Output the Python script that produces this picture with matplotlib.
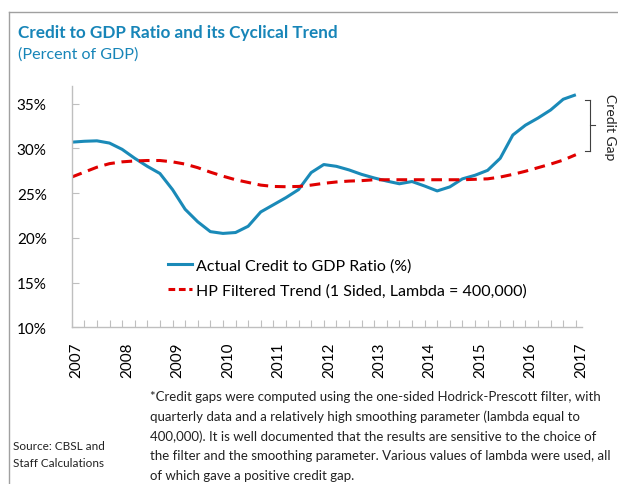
import matplotlib.pyplot as plt
from matplotlib.lines import Line2D

plt.rcParams['font.family'] = ['Lato', 'DejaVu Sans']

# Quarterly data, 2007Q1 - 2017Q1 (percent of GDP)
years = list(range(2007, 2018))
actual_ratio = [30.7, 30.8, 30.85, 30.6, 29.9, 28.9, 28.0, 27.2, 25.4, 23.2,
                21.8, 20.7, 20.5, 20.6, 21.3, 22.9, 23.7, 24.5, 25.4, 27.3,
                28.2, 28.0, 27.6, 27.1, 26.7, 26.35, 26.05, 26.3, 25.8, 25.25,
                25.7, 26.6, 27.0, 27.55, 28.9, 31.5, 32.6, 33.4, 34.3, 35.5,
                36.0]
hp_trend = [26.8, 27.35, 27.9, 28.3, 28.5, 28.6, 28.65, 28.65, 28.5, 28.25,
            27.85, 27.35, 26.9, 26.5, 26.2, 25.9, 25.75, 25.72, 25.75, 25.9,
            26.1, 26.25, 26.35, 26.4, 26.5, 26.5, 26.5, 26.5, 26.5, 26.5,
            26.5, 26.5, 26.55, 26.6, 26.8, 27.1, 27.45, 27.85, 28.25, 28.7,
            29.3]
y_ticks = [10, 15, 20, 25, 30, 35]

title_color = '#1785b8'
blue = '#1a8ab8'
red = '#e00000'

fig = plt.figure(figsize=(6.18, 4.85), dpi=100)
ax = fig.add_axes([0.116, 0.323, 0.826, 0.498])

q = list(range(len(actual_ratio)))
ax.plot(q, actual_ratio, color=blue, lw=2.2, solid_capstyle='butt')
ax.plot(q, hp_trend, color=red, lw=2.2, dashes=(3.5, 2.2))

ax.set_xlim(0, 40.5)
ax.set_ylim(10, 37)
ax.set_yticks(y_ticks)
ax.set_yticklabels([f'{v}%' for v in y_ticks], fontsize=11)
# quarterly tick marks, year labels slightly right of the quarter mark
ax.set_xticks(q, minor=True)
ax.set_xticks([4 * i + 0.4 for i in range(len(years))])
ax.set_xticklabels([str(y) for y in years], rotation=90, fontsize=11)
ax.tick_params(axis='both', which='both', direction='in', length=5,
               color='#bfbfbf', width=0.8)
ax.tick_params(axis='x', which='major', length=0, pad=10)
ax.tick_params(axis='y', pad=18)
for s in ['top', 'right']:
    ax.spines[s].set_visible(False)
for s in ['left', 'bottom']:
    ax.spines[s].set_color('#bfbfbf')
    ax.spines[s].set_linewidth(1.0)

handles = [Line2D([], [], color=blue, lw=2.2),
           Line2D([], [], color=red, lw=2.2, dashes=(2.2, 1.2))]
ax.legend(handles, ['Actual Credit to GDP Ratio (%)',
                    'HP Filtered Trend (1 Sided, Lambda = 400,000)'],
          loc='upper left', bbox_to_anchor=(0.16, 0.345), frameon=False,
          fontsize=11.5, handlelength=1.55, handletextpad=0.2, labelspacing=0.65)

# credit gap bracket
bx = 0.955
fig.add_artist(Line2D([bx, bx], [1 - 100.5 / 485, 1 - 151.5 / 485], color='#404040', lw=0.8))
fig.add_artist(Line2D([bx - 0.008, bx], [1 - 100.5 / 485] * 2, color='#404040', lw=0.8))
fig.add_artist(Line2D([bx - 0.008, bx], [1 - 151.5 / 485] * 2, color='#404040', lw=0.8))
fig.add_artist(Line2D([bx, bx + 0.007], [1 - 126 / 485] * 2, color='#404040', lw=0.8))
fig.text(0.987, 1 - 127 / 485, 'Credit Gap', rotation=270, ha='center', va='center',
         fontsize=10, color='#222222')

# frame lines
fig.add_artist(Line2D([9 / 618, 1], [1 - 13 / 485] * 2, color='#a0a0a0', lw=1))
fig.add_artist(Line2D([9 / 618] * 2, [0, 1 - 13 / 485], color='#a0a0a0', lw=1))

fig.text(18 / 618, 1 - 33 / 485, 'Credit to GDP Ratio and its Cyclical Trend',
         fontsize=12.3, fontweight='bold', color=title_color, va='center')
fig.text(18 / 618, 1 - 55 / 485, '(Percent of GDP)', fontsize=11.6, color=title_color,
         va='center')

note = ('*Credit gaps were computed using the one-sided Hodrick-Prescott filter, with\n'
        'quarterly data and a relatively high smoothing parameter (lambda equal to\n'
        '400,000). It is well documented that the results are sensitive to the choice of\n'
        'the filter and the smoothing parameter. Various values of lambda were used, all\n'
        'of which gave a positive credit gap.')
fig.text(150 / 618, 1 - 391 / 485, note, fontsize=9.5, va='top', linespacing=1.72,
         color='#222222')
fig.text(13 / 618, 1 - 455 / 485, 'Source: CBSL and\nStaff Calculations', fontsize=8.5,
         va='center', linespacing=1.75, color='#222222')

fig.savefig('out.png', dpi=100)
